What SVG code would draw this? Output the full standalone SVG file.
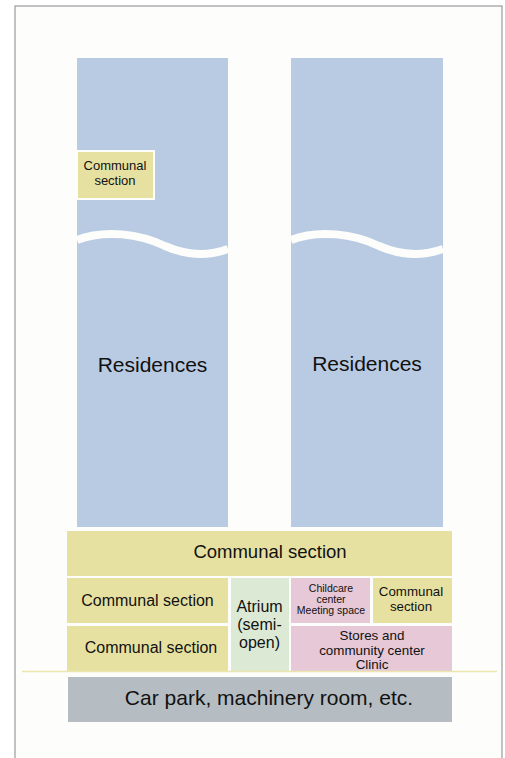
<svg xmlns="http://www.w3.org/2000/svg" width="505" height="758" viewBox="0 0 505 758">
  <style>
    text { font-family: "Liberation Sans", Arial, sans-serif; fill: #111; text-anchor: middle; }
    .tower { fill: #b9cbe3; }
    .communal { fill: #e7e1a1; }
    .atrium { fill: #dce9d4; }
    .pink { fill: #e6c8d6; }
    .carpark { fill: #b5bdc3; }
    .gap { fill: none; stroke: #fdfdfb; stroke-width: 8; }
  </style>

  <!-- frame -->
  <rect x="15" y="6" width="487" height="760" fill="#fdfdfb" stroke="#9a9a9a" stroke-width="1.2"/>

  <!-- left residential tower -->
  <g id="tower-left">
    <rect class="tower" x="77" y="58" width="151" height="469"/>
    <path class="gap" d="M77,240 C105,229 140,234 165,246 C190,257 212,255 228,249"/>
    <text x="152.5" y="372" font-size="21">Residences</text>
  </g>

  <!-- right residential tower -->
  <g id="tower-right">
    <rect class="tower" x="291" y="58" width="152" height="469"/>
    <path class="gap" d="M291,240 C319,229 354,234 379,246 C404,257 426,255 443,249"/>
    <text x="367" y="371" font-size="21">Residences</text>
  </g>

  <!-- communal section on an upper floor -->
  <g id="communal-upper">
    <rect class="communal" x="77" y="151" width="77" height="48" stroke="#fdfdfb" stroke-width="2"/>
    <text x="115" y="170" font-size="13">Communal</text>
    <text x="115" y="185" font-size="13">section</text>
  </g>

  <!-- podium -->
  <g id="communal-top">
    <rect class="communal" x="67" y="531" width="385" height="45"/>
    <text x="270" y="558" font-size="18.5">Communal section</text>
  </g>

  <g id="communal-left-1">
    <rect class="communal" x="67" y="578" width="161" height="45"/>
    <text x="147.5" y="606" font-size="16">Communal section</text>
  </g>

  <g id="communal-left-2">
    <rect class="communal" x="67" y="626" width="161" height="46"/>
    <text x="151" y="653" font-size="16">Communal section</text>
  </g>

  <g id="atrium">
    <rect class="atrium" x="231" y="578" width="58" height="94"/>
    <text x="259.5" y="612" font-size="16">Atrium</text>
    <text x="259.5" y="630" font-size="16">(semi-</text>
    <text x="259.5" y="648" font-size="16">open)</text>
  </g>

  <g id="childcare">
    <rect class="pink" x="291" y="578" width="79" height="45"/>
    <text x="331" y="592" font-size="10.5">Childcare</text>
    <text x="331" y="603" font-size="10.5">center</text>
    <text x="331" y="614" font-size="10.5">Meeting space</text>
  </g>

  <g id="communal-right">
    <rect class="communal" x="373" y="578" width="79" height="45"/>
    <text x="411" y="596" font-size="13.3">Communal</text>
    <text x="411" y="611" font-size="13.3">section</text>
  </g>

  <g id="stores">
    <rect class="pink" x="291" y="626" width="161" height="46"/>
    <text x="372" y="640" font-size="13.4">Stores and</text>
    <text x="372" y="655" font-size="13.4">community center</text>
    <text x="372" y="669" font-size="13.4">Clinic</text>
  </g>

  <!-- ground line -->
  <g id="connectors">
    <line x1="22" y1="671.5" x2="497" y2="671.5" stroke="#ebe6b0" stroke-width="1.5"/>
  </g>

  <g id="carpark">
    <rect class="carpark" x="68" y="677" width="384" height="45"/>
    <text x="269" y="705" font-size="21">Car park, machinery room, etc.</text>
  </g>
</svg>
